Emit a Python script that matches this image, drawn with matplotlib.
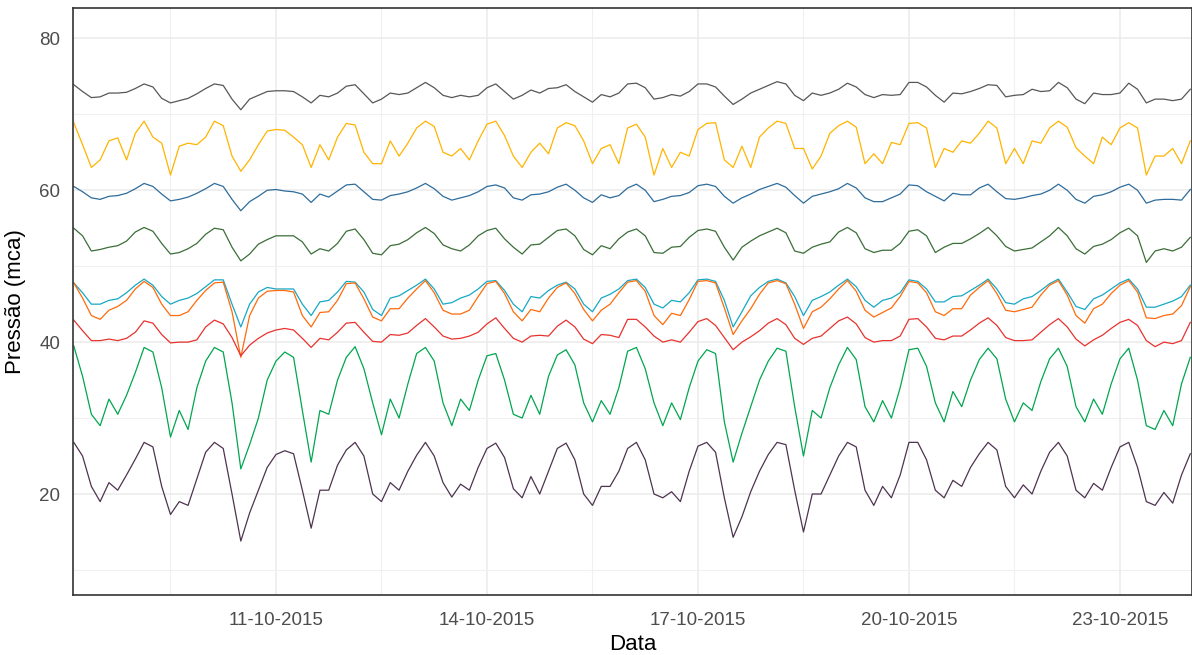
import matplotlib
matplotlib.use("Agg")
import matplotlib.pyplot as plt
import matplotlib.dates as mdates
import pandas as pd

plt.rcParams['font.family'] = ['Liberation Sans', 'DejaVu Sans']

# leituras a cada 3 horas, de 08-10-2015 03:00 ate 24-10-2015 00:00
tempo = pd.date_range('2015-10-08 03:00', '2015-10-24 00:00', freq='3h')

cinza = [
    73.9, 73.0, 72.2, 72.3, 72.8, 72.8, 72.9,
    73.4, 74.0, 73.6, 72.1, 71.5, 71.8, 72.1, 72.7,
    73.4, 74.0, 73.8, 72.0, 70.6, 72.0, 72.5, 73.0,
    73.1, 73.1, 73.0, 72.3, 71.5, 72.5, 72.3, 72.8,
    73.7, 73.9, 72.7, 71.5, 72.0, 72.8, 72.6, 72.8,
    73.5, 74.2, 73.5, 72.5, 72.2, 72.5, 72.3, 72.5,
    73.5, 74.0, 73.0, 72.0, 72.5, 73.2, 72.8, 73.4,
    73.5, 73.9, 73.0, 72.3, 71.6, 72.6, 72.3, 72.8,
    74.0, 74.1, 73.5, 72.0, 72.2, 72.6, 72.4, 73.0,
    74.0, 74.0, 73.6, 72.4, 71.3, 72.0, 72.8, 73.3,
    73.8, 74.3, 74.0, 72.5, 71.8, 72.8, 72.5, 72.8,
    73.3, 74.1, 73.6, 72.6, 72.2, 72.6, 72.5, 72.6,
    74.2, 74.2, 73.6, 72.5, 71.6, 72.8, 72.7, 73.0,
    73.4, 73.9, 73.8, 72.3, 72.5, 72.6, 73.3, 73.0,
    73.1, 74.2, 73.5, 72.0, 71.4, 72.8, 72.6, 72.6,
    72.8, 74.1, 73.3, 71.5, 72.0, 72.0, 71.8, 72.0,
    73.3]

amarelo = [
    68.9, 66.0, 63.0, 64.0, 66.5, 66.9, 64.0,
    67.5, 69.1, 67.0, 66.2, 62.0, 65.8, 66.2, 66.0,
    67.0, 69.1, 68.5, 64.5, 62.5, 64.0, 66.0, 67.8,
    68.0, 67.9, 67.0, 66.0, 63.0, 66.0, 64.0, 67.0,
    68.8, 68.6, 65.0, 63.5, 63.5, 66.5, 64.5, 66.2,
    68.2, 69.1, 68.4, 65.0, 64.5, 65.5, 64.0, 66.5,
    68.7, 69.1, 67.2, 64.5, 63.0, 65.0, 66.2, 64.8,
    68.2, 68.9, 68.5, 66.5, 63.5, 65.5, 66.0, 63.5,
    68.2, 68.7, 67.0, 62.0, 65.5, 63.0, 65.0, 64.5,
    68.0, 68.8, 68.9, 64.0, 63.0, 65.8, 63.0, 67.0,
    68.2, 69.1, 68.8, 65.5, 65.5, 62.8, 64.5, 67.5,
    68.5, 69.1, 68.3, 63.5, 64.8, 63.5, 66.3, 66.0,
    68.8, 68.9, 68.2, 63.0, 65.5, 65.0, 66.5, 66.2,
    67.5, 69.1, 68.2, 63.5, 65.5, 63.5, 66.5, 66.2,
    68.2, 69.1, 68.3, 65.6, 64.5, 63.5, 67.0, 66.0,
    68.2, 68.9, 68.2, 62.0, 64.5, 64.5, 65.5, 63.5,
    66.5]

azul = [
    60.5, 59.8, 59.0, 58.8, 59.2, 59.3, 59.6,
    60.2, 60.9, 60.5, 59.5, 58.6, 58.8, 59.1, 59.6,
    60.2, 60.9, 60.5, 58.8, 57.3, 58.5, 59.2, 60.0,
    60.1, 59.9, 59.8, 59.5, 58.4, 59.5, 59.1, 59.9,
    60.7, 60.8, 59.8, 58.8, 58.7, 59.3, 59.5, 59.8,
    60.3, 60.9, 60.2, 59.2, 58.7, 59.0, 59.3, 59.8,
    60.5, 60.7, 60.3, 59.0, 58.7, 59.4, 59.5, 59.8,
    60.4, 60.8, 60.0, 59.0, 58.4, 59.4, 59.0, 59.3,
    60.3, 60.8, 60.0, 58.5, 58.8, 59.2, 59.3, 59.7,
    60.6, 60.8, 60.5, 59.2, 58.3, 59.0, 59.5, 60.1,
    60.5, 60.9, 60.4, 59.3, 58.3, 59.2, 59.5, 59.8,
    60.2, 60.9, 60.3, 59.0, 58.5, 58.5, 59.0, 59.5,
    60.7, 60.6, 59.8, 59.2, 58.6, 59.6, 59.4, 59.4,
    60.3, 60.8, 59.8, 58.9, 58.8, 59.0, 59.3, 59.5,
    60.0, 60.8, 60.0, 58.8, 58.3, 59.2, 59.4, 59.8,
    60.4, 60.8, 60.0, 58.3, 58.7, 58.8, 58.8, 58.7,
    60.1]

verde_escuro = [
    55.0, 54.0, 52.0, 52.2, 52.5, 52.7, 53.3,
    54.5, 55.1, 54.6, 53.0, 51.6, 51.8, 52.3, 53.0,
    54.2, 55.0, 54.8, 52.5, 50.7, 51.6, 52.9, 53.5,
    54.0, 54.0, 54.0, 53.2, 51.6, 52.3, 52.0, 53.0,
    54.6, 54.9, 53.5, 51.7, 51.5, 52.7, 52.9, 53.5,
    54.4, 55.1, 54.3, 52.8, 52.3, 52.0, 52.8, 54.0,
    54.7, 55.0, 53.6, 52.5, 51.6, 52.8, 52.9, 53.8,
    54.7, 54.9, 54.0, 52.2, 51.5, 52.7, 52.3, 53.6,
    54.5, 54.9, 54.0, 51.8, 51.7, 52.5, 52.6, 53.8,
    54.7, 54.9, 54.6, 52.5, 50.8, 52.5, 53.3, 54.0,
    54.5, 55.0, 54.4, 52.0, 51.7, 52.5, 52.9, 53.2,
    54.5, 55.1, 54.4, 52.3, 51.8, 52.1, 52.1, 53.0,
    54.6, 54.8, 54.0, 51.8, 52.5, 53.0, 53.0, 53.6,
    54.3, 55.1, 54.0, 52.6, 52.0, 52.2, 52.4, 53.2,
    54.0, 55.1, 54.0, 52.3, 51.6, 52.6, 52.9, 53.5,
    54.4, 55.0, 54.0, 50.5, 52.0, 52.3, 52.0, 52.5,
    53.8]

ciano = [
    47.8, 46.5, 45.0, 45.0, 45.5, 45.7, 46.5,
    47.5, 48.3, 47.5, 46.0, 45.0, 45.5, 45.8, 46.4,
    47.3, 48.2, 48.2, 45.0, 42.0, 45.0, 46.6, 47.2,
    47.0, 47.0, 47.0, 45.0, 43.5, 45.3, 45.5, 46.6,
    48.0, 47.9, 46.6, 44.3, 43.5, 45.8, 46.1, 46.8,
    47.5, 48.3, 47.0, 45.0, 45.2, 45.8, 46.2, 47.0,
    48.0, 48.1, 46.8, 45.0, 44.0, 46.0, 45.8, 46.8,
    47.5, 47.9, 47.0, 45.0, 44.0, 45.8, 46.3, 47.0,
    48.1, 48.3, 47.2, 45.0, 44.5, 45.5, 45.3, 46.5,
    48.2, 48.3, 48.0, 45.5, 42.0, 44.0, 46.1, 47.2,
    48.0, 48.3, 47.8, 46.0, 43.5, 45.5, 46.0, 46.6,
    47.5, 48.3, 47.3, 45.5, 44.6, 45.5, 45.8, 46.5,
    48.2, 48.0, 47.0, 45.3, 45.3, 46.0, 46.1, 46.8,
    47.5, 48.3, 47.0, 45.2, 45.0, 45.7, 46.0, 46.8,
    47.7, 48.3, 46.6, 44.7, 44.3, 45.7, 46.2, 47.0,
    47.8, 48.3, 47.0, 44.6, 44.6, 45.0, 45.4, 46.0,
    47.5]

laranja = [
    47.8, 45.8, 43.5, 43.0, 44.2, 44.7, 45.5,
    47.0, 48.0, 47.2, 45.0, 43.5, 43.5, 44.0, 45.5,
    46.8, 47.8, 47.9, 44.0, 38.0, 43.5, 45.8, 46.7,
    46.8, 46.8, 46.6, 43.5, 42.0, 43.9, 44.0, 45.5,
    47.7, 47.8, 45.7, 43.3, 42.8, 44.4, 44.4, 45.8,
    47.0, 48.1, 46.5, 44.2, 43.7, 43.7, 44.2, 46.0,
    47.7, 48.0, 46.4, 44.0, 42.8, 44.3, 44.0, 45.8,
    47.2, 47.8, 46.4, 44.3, 42.8, 44.2, 45.0, 46.5,
    47.9, 48.1, 46.7, 43.5, 42.3, 43.8, 43.5, 45.6,
    48.0, 48.1, 47.8, 44.5, 41.0, 42.8, 44.4, 46.3,
    47.8, 48.1, 47.7, 45.0, 41.8, 44.0, 44.6, 45.7,
    47.0, 48.1, 46.7, 44.2, 43.3, 43.9, 44.5, 46.0,
    48.0, 47.8, 46.5, 44.0, 43.5, 44.4, 44.4, 46.2,
    47.2, 48.1, 46.4, 44.2, 44.0, 44.3, 44.6, 46.2,
    47.5, 48.1, 46.2, 43.5, 42.5, 44.4, 45.0, 46.4,
    47.5, 48.1, 46.6, 43.2, 43.1, 43.5, 43.7, 44.8,
    47.3]

vermelho = [
    42.9, 41.5, 40.2, 40.2, 40.4, 40.2, 40.5,
    41.3, 42.8, 42.5, 41.0, 39.9, 40.0, 40.0, 40.3,
    42.0, 42.9, 42.4, 40.6, 38.2, 39.6, 40.5, 41.2,
    41.6, 41.8, 41.6, 40.5, 39.3, 40.5, 40.3, 41.3,
    42.5, 42.6, 41.3, 40.1, 40.0, 41.0, 40.9, 41.2,
    42.2, 43.1, 42.0, 40.8, 40.4, 40.5, 40.8, 41.3,
    42.4, 43.2, 41.8, 40.5, 40.0, 40.8, 40.9, 40.8,
    42.1, 42.9, 42.0, 40.4, 39.8, 41.0, 40.9, 40.6,
    43.0, 43.0, 42.0, 40.8, 40.0, 40.3, 40.0, 41.3,
    42.7, 43.1, 42.2, 40.6, 39.0, 40.0, 40.7, 41.5,
    42.5, 43.1, 42.3, 40.5, 39.7, 40.5, 40.8, 41.8,
    42.8, 43.3, 42.4, 40.6, 40.0, 40.2, 40.2, 40.8,
    43.0, 43.1, 42.0, 40.5, 40.3, 40.8, 40.8, 41.6,
    42.5, 43.2, 42.2, 40.6, 40.2, 40.2, 40.3, 41.3,
    42.3, 43.1, 42.0, 40.4, 39.5, 40.3, 40.9, 41.8,
    42.6, 43.0, 42.2, 40.2, 39.4, 40.0, 39.8, 40.2,
    42.6]

verde = [
    39.5, 35.5, 30.5, 29.0, 32.5, 30.5, 33.0,
    36.0, 39.3, 38.7, 34.0, 27.5, 31.0, 28.5, 34.0,
    37.5, 39.3, 38.7, 32.0, 23.3, 26.5, 30.0, 35.0,
    37.5, 38.7, 38.0, 31.0, 24.2, 31.0, 30.5, 35.0,
    38.0, 39.4, 36.5, 32.0, 27.8, 32.5, 30.0, 34.5,
    38.5, 39.3, 37.5, 32.0, 29.0, 32.5, 31.0, 35.0,
    38.2, 38.5, 35.0, 30.5, 30.0, 33.0, 30.5, 35.5,
    38.3, 39.0, 37.0, 32.0, 29.5, 32.3, 30.5, 34.0,
    38.8, 39.3, 36.5, 32.0, 29.0, 32.0, 29.8, 34.0,
    37.5, 39.0, 38.5, 29.5, 24.2, 28.0, 31.5, 35.0,
    37.5, 39.2, 38.8, 31.5, 25.0, 31.0, 30.0, 34.0,
    37.0, 39.3, 37.7, 31.5, 29.5, 32.3, 30.0, 34.0,
    39.0, 39.2, 36.8, 32.0, 29.5, 33.5, 31.5, 35.0,
    37.7, 39.2, 37.8, 32.5, 29.5, 32.0, 31.0, 34.8,
    37.8, 39.2, 36.8, 31.5, 29.5, 32.5, 30.5, 34.5,
    37.8, 39.2, 35.0, 29.0, 28.5, 31.0, 29.0, 34.5,
    38.0]

roxo = [
    26.8, 25.0, 21.0, 19.0, 21.5, 20.5, 22.5,
    24.6, 26.8, 26.2, 21.0, 17.3, 19.0, 18.5, 22.0,
    25.5, 26.8, 26.0, 20.0, 13.8, 17.5, 20.5, 23.5,
    25.2, 25.7, 25.3, 20.5, 15.5, 20.5, 20.5, 23.8,
    25.8, 26.8, 25.0, 20.0, 19.0, 21.5, 20.5, 23.0,
    25.1, 26.8, 25.0, 21.5, 19.6, 21.3, 20.5, 23.5,
    26.0, 26.7, 24.8, 20.7, 19.5, 22.3, 20.0, 23.0,
    26.0, 26.7, 24.5, 20.0, 18.5, 21.0, 21.0, 23.0,
    26.0, 26.8, 24.5, 20.0, 19.5, 20.3, 19.0, 23.0,
    26.3, 26.8, 25.5, 19.5, 14.3, 17.0, 20.3, 23.0,
    25.2, 26.8, 26.5, 20.5, 15.0, 20.0, 20.0, 22.5,
    25.0, 26.8, 26.2, 20.5, 18.5, 21.0, 19.5, 22.5,
    26.8, 26.8, 24.5, 20.5, 19.5, 21.8, 21.0, 23.5,
    25.3, 26.8, 25.8, 21.0, 19.5, 21.2, 20.0, 23.0,
    25.5, 26.8, 25.0, 20.5, 19.5, 21.4, 20.5, 23.5,
    26.2, 26.8, 23.5, 19.0, 18.5, 20.2, 18.8, 22.5,
    25.3]

series = [
    (cinza, '#575757'),
    (amarelo, '#FFB400'),
    (azul, '#2E6C9C'),
    (verde_escuro, '#3B6E38'),
    (ciano, '#17A8C4'),
    (laranja, '#FF6A0A'),
    (vermelho, '#E8322E'),
    (verde, '#00A64F'),
    (roxo, '#4E3350'),
]

fig = plt.figure(figsize=(11.92, 6.55), dpi=100)
ax = fig.add_axes([73 / 1192, 60 / 655, 1119 / 1192, 587 / 655])

for valores, cor in series:
    ax.plot(tempo, valores, color=cor, linewidth=0.9)

ax.set_xlim(pd.Timestamp('2015-10-08 02:44'), pd.Timestamp('2015-10-24 00:35'))
ax.set_ylim(6.7, 84.0)

ax.xaxis.set_major_locator(mdates.DayLocator(bymonthday=[11, 14, 17, 20, 23]))
ax.xaxis.set_major_formatter(mdates.DateFormatter('%d-%m-%Y'))
minor_x = pd.to_datetime(['2015-10-09 12:00', '2015-10-12 12:00', '2015-10-15 12:00',
                          '2015-10-18 12:00', '2015-10-21 12:00'])
ax.set_xticks(minor_x, minor=True)
ax.set_yticks([20, 40, 60, 80])
ax.set_yticks([10, 30, 50, 70], minor=True)

ax.grid(True, which='major', color='#EBEBEB', linewidth=1.1)
ax.grid(True, which='minor', color='#F0F0F0', linewidth=0.8)
ax.set_axisbelow(True)

ax.tick_params(which='both', length=0)
ax.tick_params(axis='x', pad=12, labelsize=13.5, labelcolor='#4D4D4D')
ax.tick_params(axis='y', pad=9, labelsize=13.5, labelcolor='#4D4D4D')

for s in ax.spines.values():
    s.set_color('#333333')
    s.set_linewidth(1.2)

ax.set_xlabel('Data', fontsize=16, labelpad=4)
ax.set_ylabel('Pressão (mca)', fontsize=16, labelpad=10)

fig.savefig('out.png', dpi=100)
